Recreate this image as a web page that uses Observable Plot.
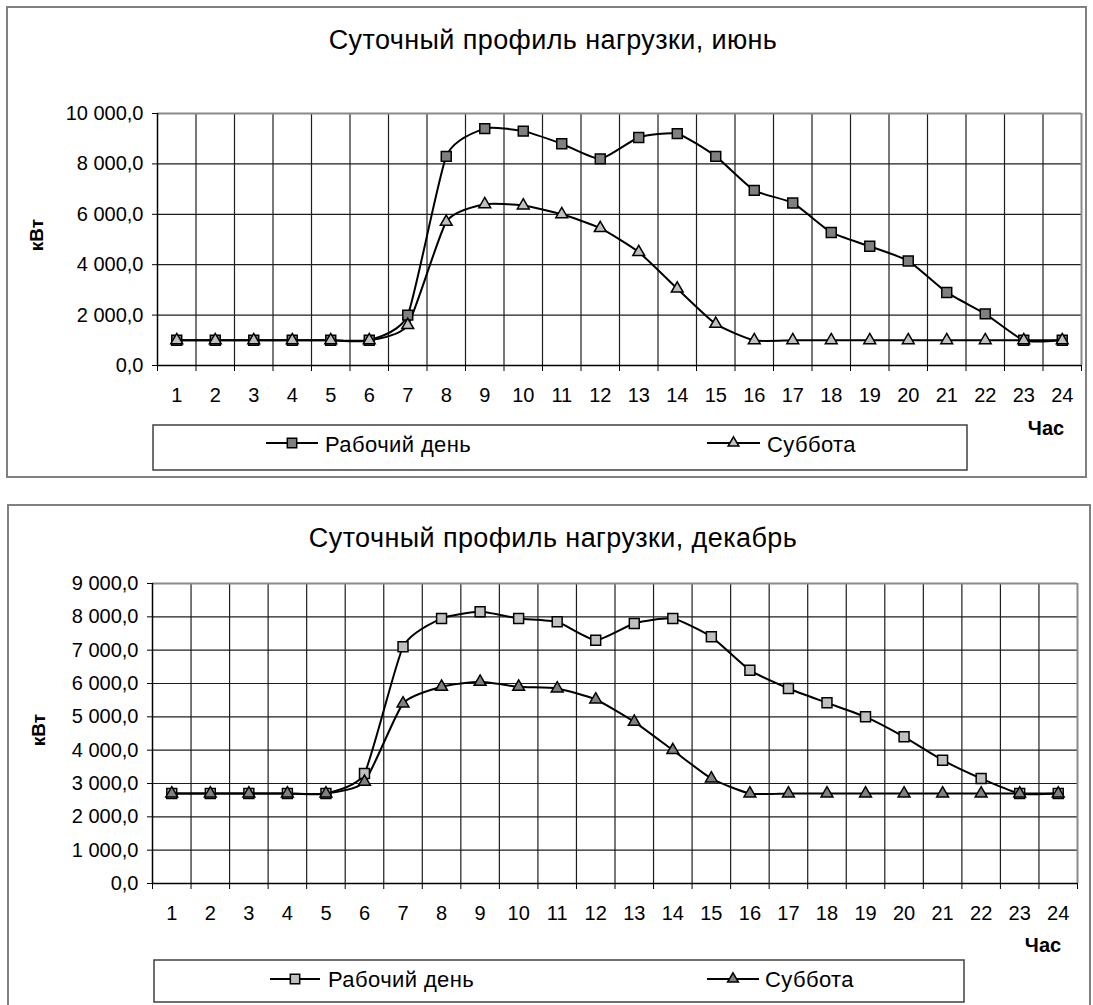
<!DOCTYPE html>
<html>
<head>
<meta charset="utf-8">
<script src="https://cdn.jsdelivr.net/npm/d3@7"></script>
<script src="https://cdn.jsdelivr.net/npm/@observablehq/plot@0.6"></script>
<style>
  html, body { margin: 0; padding: 0; background: #fff; }
  #page { position: relative; width: 1093px; height: 1005px; overflow: hidden; background: #fff;
          font-family: "Liberation Sans", Arial, sans-serif; }
</style>
</head>
<body>
<div id="page"></div>
<script>
// ---------- data ----------
const hours = [1, 2, 3, 4, 5, 6, 7, 8, 9, 10, 11, 12, 13, 14, 15, 16, 17, 18, 19, 20, 21, 22, 23, 24];
const seriesNames = ["Рабочий день", "Суббота"];
const titles = ["Суточный профиль нагрузки, июнь", "Суточный профиль нагрузки, декабрь"];
const yAxisLabel = "кВт";
const xAxisLabel = "Час";

const juneYTicks = [0, 2000, 4000, 6000, 8000, 10000];
const juneWorkday = [1000, 1000, 1000, 1000, 1000, 1000, 2000, 8300, 9400, 9300, 8800, 8200,
                     9050, 9200, 8300, 6950, 6450, 5280, 4730, 4150, 2900, 2050, 1000, 1000];
const juneSaturday = [1000, 1000, 1000, 1000, 1000, 1000, 1600, 5700, 6400, 6350, 6000, 5450,
                      4500, 3050, 1650, 1000, 1000, 1000, 1000, 1000, 1000, 1000, 1000, 1000];

const decYTicks = [0, 1000, 2000, 3000, 4000, 5000, 6000, 7000, 8000, 9000];
const decWorkday = [2700, 2700, 2700, 2700, 2700, 3300, 7100, 7950, 8150, 7950, 7850, 7300,
                    7800, 7950, 7400, 6400, 5850, 5420, 5000, 4400, 3700, 3150, 2700, 2700];
const decSaturday = [2700, 2700, 2700, 2700, 2700, 3050, 5400, 5900, 6050, 5900, 5850, 5520,
                     4850, 4000, 3150, 2700, 2700, 2700, 2700, 2700, 2700, 2700, 2700, 2700];

// ---------- helpers ----------
const FONT = "Liberation Sans, Arial, sans-serif";
const locale = d3.formatLocale({decimal: ",", thousands: "\u00a0", grouping: [3], currency: ["", ""]});
const fmt = locale.format(",.1f");
const bounds = hours.map(h => h - 0.5).concat([hours[hours.length - 1] + 0.5]);
const innerBounds = bounds.slice(1, -1);

const page = document.getElementById("page");

function makeChart(cfg) {
  const work = hours.map((h, i) => ({hour: h, value: cfg.work[i]}));
  const sat = hours.map((h, i) => ({hour: h, value: cfg.sat[i]}));
  const ymax = cfg.yTicks[cfg.yTicks.length - 1];
  const xDom = [bounds[0], bounds[bounds.length - 1]];
  const lineOpts = {x: "hour", y: "value", curve: "cardinal", tension: 0.45, stroke: "#000", strokeWidth: 2};
  const svg = Plot.plot({
    width: 1093,
    height: cfg.height,
    marginLeft: cfg.left,
    marginRight: 1093 - cfg.right,
    marginTop: cfg.plotTop - cfg.top,
    marginBottom: cfg.top + cfg.height - cfg.plotBottom,
    style: {position: "absolute", left: "0px", top: cfg.top + "px", background: "transparent",
            fontFamily: FONT, fontSize: "20px", color: "#000", overflow: "visible"},
    x: {domain: xDom, axis: null},
    y: {domain: [0, ymax], axis: null},
    marks: [
      Plot.gridY(cfg.yTicks.slice(1, -1), {stroke: "#1e1e1e", strokeOpacity: 1, strokeWidth: 1.2}),
      Plot.gridX(innerBounds, {stroke: "#1e1e1e", strokeOpacity: 1, strokeWidth: 1.2}),
      Plot.ruleY([ymax], {stroke: "#8a8a8a", strokeWidth: 2}),
      Plot.ruleX([xDom[1]], {stroke: "#8a8a8a", strokeWidth: 2}),
      Plot.axisY(cfg.yTicks, {tickSize: 5, tickPadding: 9, tickFormat: fmt, stroke: "#000",
                              fontSize: 20, fill: "#000", label: null}),
      Plot.axisX(bounds, {tickSize: 6, tickFormat: () => "", stroke: "#000", label: null}),
      Plot.axisX(hours, {tickSize: 0, tickPadding: 22, fontSize: 20, fill: "#000", label: null}),
      Plot.ruleX([xDom[0]], {stroke: "#000", strokeWidth: 1.5}),
      Plot.ruleY([0], {stroke: "#000", strokeWidth: 1.5}),
      Plot.line(work, lineOpts),
      Plot.line(sat, lineOpts),
      Plot.dot(work, {x: "hour", y: "value", symbol: "square", r: 5.6, fill: cfg.workFill,
                      stroke: "#000", strokeWidth: 1.5}),
      Plot.dot(sat, {x: "hour", y: "value", symbol: "triangle", r: 4.4, fill: cfg.satFill,
                     stroke: "#000", strokeWidth: 1.5})
    ]
  });
  page.appendChild(svg);
}

// ---------- overlay: frames, titles, axis names, legends ----------
const ov = d3.select(page).append("svg")
  .attr("width", 1093).attr("height", 1005)
  .style("position", "absolute").style("left", "0px").style("top", "0px")
  .style("font-family", FONT);

function decorate(cfg) {
  ov.append("rect").attr("x", cfg.box[0]).attr("y", cfg.box[1]).attr("width", cfg.box[2]).attr("height", cfg.box[3])
    .attr("fill", "none").attr("stroke", "#808080").attr("stroke-width", 2);
  ov.append("text").attr("x", cfg.titleX).attr("y", cfg.titleY).attr("text-anchor", "middle")
    .attr("font-size", 27).attr("letter-spacing", 0.4).attr("fill", "#000").text(cfg.title);
  ov.append("text").attr("transform", `translate(${cfg.yLabX},${cfg.yLabY}) rotate(-90)`)
    .attr("text-anchor", "middle").attr("font-size", 19).attr("font-weight", "bold").text(yAxisLabel);
  ov.append("text").attr("x", cfg.xLabX).attr("y", cfg.xLabY).attr("text-anchor", "middle")
    .attr("font-size", 20).attr("font-weight", "bold").text(xAxisLabel);
  const lg = cfg.legend;
  ov.append("rect").attr("x", lg.box[0]).attr("y", lg.box[1]).attr("width", lg.box[2]).attr("height", lg.box[3])
    .attr("fill", "#fff").attr("stroke", "#404040").attr("stroke-width", 1.5);
  const items = [
    {name: seriesNames[0], x0: lg.x1[0], x1: lg.x1[1], tx: lg.x1[2], sym: d3.symbolSquare, size: 5.3 * 5.3 * Math.PI, fill: cfg.workFill},
    {name: seriesNames[1], x0: lg.x2[0], x1: lg.x2[1], tx: lg.x2[2], sym: d3.symbolTriangle, size: 4.0 * 4.0 * Math.PI, fill: cfg.satFill}
  ];
  for (const it of items) {
    ov.append("line").attr("x1", it.x0).attr("x2", it.x1).attr("y1", lg.my).attr("y2", lg.my)
      .attr("stroke", "#000").attr("stroke-width", 2);
    ov.append("path").attr("d", d3.symbol(it.sym, it.size)()).attr("transform", `translate(${(it.x0 + it.x1) / 2},${lg.my})`)
      .attr("fill", it.fill).attr("stroke", "#000").attr("stroke-width", 1.5);
    ov.append("text").attr("x", it.tx).attr("y", lg.ty).attr("font-size", 22).attr("letter-spacing", 0.4)
      .attr("fill", "#000").text(it.name);
  }
}

decorate({
  box: [7, 7, 1079, 470], title: titles[0], titleX: 553, titleY: 48.5,
  yLabX: 43, yLabY: 235, xLabX: 1046, xLabY: 435,
  workFill: "#808080", satFill: "#c0c0c0",
  legend: {box: [153, 425, 814, 45], my: 443, ty: 452, x1: [266, 318, 325], x2: [707, 760, 767]}
});
decorate({
  box: [8, 505, 1082, 520], title: titles[1], titleX: 553, titleY: 546.5,
  yLabX: 45, yLabY: 730, xLabX: 1043, xLabY: 471.7 + 480,
  workFill: "#c0c0c0", satFill: "#808080",
  legend: {box: [154, 960, 810, 42], my: 979, ty: 987, x1: [270, 320, 328], x2: [707, 759, 765]}
});

makeChart({top: 0, height: 420, left: 157, right: 1081, plotTop: 113, plotBottom: 365,
           yTicks: juneYTicks, work: juneWorkday, sat: juneSaturday, workFill: "#808080", satFill: "#c0c0c0"});
makeChart({top: 480, height: 460, left: 152, right: 1077, plotTop: 583, plotBottom: 883,
           yTicks: decYTicks, work: decWorkday, sat: decSaturday, workFill: "#c0c0c0", satFill: "#808080"});
</script>
</body>
</html>
